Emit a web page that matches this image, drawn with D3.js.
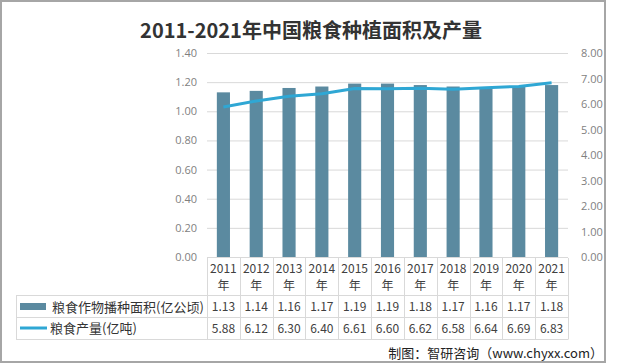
<!DOCTYPE html>
<html>
<head>
<meta charset="utf-8">
<script src="https://cdn.jsdelivr.net/npm/d3@7"></script>
<style>
body { margin: 0; background: #fff; }
svg { display: block; }
</style>
</head>
<body>
<svg width="626" height="364"></svg>
<script>
// categories and values
var years = ["2011", "2012", "2013", "2014", "2015", "2016", "2017", "2018", "2019", "2020", "2021"];
var area = [1.13, 1.14, 1.16, 1.17, 1.19, 1.19, 1.18, 1.17, 1.16, 1.17, 1.18];
var output = [5.88, 6.12, 6.30, 6.40, 6.61, 6.60, 6.62, 6.58, 6.64, 6.69, 6.83];
var leftTicks = [0, 0.2, 0.4, 0.6, 0.8, 1.0, 1.2, 1.4];
var rightTicks = [0, 1, 2, 3, 4, 5, 6, 7, 8];
var seriesNames = ["粮食作物播种面积(亿公顷)", "粮食产量(亿吨)"];

var svg = d3.select("svg");
var barColor = "#5b8aa0", lineColor = "#2fa7d4", gridColor = "#d9d9d9";
var cjk = "'Noto Sans CJK SC', sans-serif";

// frame
svg.append("rect").attr("x", 1).attr("y", 1).attr("width", 604).attr("height", 361)
  .attr("fill", "none").attr("stroke", "#a6a6a6").attr("stroke-width", 2);

// title
svg.append("text").attr("x", 311).attr("y", 38).attr("text-anchor", "middle")
  .style("font-family", cjk).style("font-size", "20px").style("font-weight", "bold")
  .style("fill", "#333").text("2011-2021年中国粮食种植面积及产量");

var x = d3.scaleBand().domain(years).range([207, 568]).padding(0);
var yL = d3.scaleLinear().domain([0, 1.4]).range([257, 53]);
var yR = d3.scaleLinear().domain([0, 8]).range([257, 53]);

// grid
svg.append("g").selectAll("line").data(leftTicks).enter().append("line")
  .attr("x1", 207).attr("x2", 568)
  .attr("y1", function(d) { return yL(d) + 0.5; })
  .attr("y2", function(d) { return yL(d) + 0.5; })
  .attr("stroke", gridColor).attr("stroke-width", 1);

// axes
var axL = svg.append("g").attr("transform", "translate(200,0)")
  .call(d3.axisLeft(yL).tickValues(leftTicks).tickFormat(d3.format(".2f")).tickSize(0));
var axR = svg.append("g").attr("transform", "translate(578,0)")
  .call(d3.axisRight(yR).tickValues(rightTicks).tickFormat(d3.format(".2f")).tickSize(0));
[axL, axR].forEach(function(a) {
  a.select(".domain").remove();
  a.selectAll("text").style("font-family", "'Open Sans', sans-serif").style("font-size", "11px").style("fill", "#7f7f7f");
});

// bars
var bw = x.bandwidth() * 0.4;
svg.append("g").selectAll("rect").data(area).enter().append("rect")
  .attr("x", function(d, i) { return x(years[i]) + (x.bandwidth() - bw) / 2; })
  .attr("y", function(d) { return yL(d); })
  .attr("width", bw)
  .attr("height", function(d) { return yL(0) - yL(d); })
  .attr("fill", barColor);

// line
var line = d3.line()
  .x(function(d, i) { return x(years[i]) + x.bandwidth() / 2; })
  .y(function(d) { return yR(d); });
svg.append("path").datum(output).attr("d", line)
  .attr("fill", "none").attr("stroke", lineColor).attr("stroke-width", 3).attr("stroke-linejoin", "round");

// data table
var tbl = svg.append("g");
var rowTop = [259, 295, 317, 339];
// horizontal lines
tbl.append("line").attr("x1", 16).attr("x2", 568).attr("y1", 295.5).attr("y2", 295.5).attr("stroke", gridColor);
tbl.append("line").attr("x1", 16).attr("x2", 568).attr("y1", 317.5).attr("y2", 317.5).attr("stroke", gridColor);
tbl.append("line").attr("x1", 16).attr("x2", 568).attr("y1", 339.5).attr("y2", 339.5).attr("stroke", gridColor);
// vertical lines
var vx = years.map(function(d) { return x(d); }).concat([568]);
tbl.selectAll(".v").data(vx).enter().append("line")
  .attr("x1", function(d) { return Math.round(d) + 0.5; })
  .attr("x2", function(d) { return Math.round(d) + 0.5; })
  .attr("y1", 258).attr("y2", 339.5).attr("stroke", gridColor);
tbl.append("line").attr("x1", 16.5).attr("x2", 16.5).attr("y1", 295.5).attr("y2", 339.5).attr("stroke", gridColor);

var cellFont = function(s) {
  s.style("font-family", cjk).style("font-size", "12px").style("fill", "#404040").attr("text-anchor", "middle");
};
tbl.selectAll(".yr").data(years).enter().append("text")
  .attr("x", function(d) { return x(d) + x.bandwidth() / 2; }).attr("y", 273)
  .text(function(d) { return d; }).call(cellFont);
tbl.selectAll(".nian").data(years).enter().append("text")
  .attr("x", function(d) { return x(d) + x.bandwidth() / 2; }).attr("y", 290)
  .text("年").call(cellFont);
tbl.selectAll(".a").data(area).enter().append("text")
  .attr("x", function(d, i) { return x(years[i]) + x.bandwidth() / 2; }).attr("y", 311)
  .text(function(d) { return d.toFixed(2); }).call(cellFont);
tbl.selectAll(".o").data(output).enter().append("text")
  .attr("x", function(d, i) { return x(years[i]) + x.bandwidth() / 2; }).attr("y", 333)
  .text(function(d) { return d.toFixed(2); }).call(cellFont);

// legend keys in table
tbl.append("rect").attr("x", 20).attr("y", 303).attr("width", 26).attr("height", 7).attr("fill", barColor);
tbl.append("line").attr("x1", 20).attr("x2", 47).attr("y1", 328).attr("y2", 328)
  .attr("stroke", lineColor).attr("stroke-width", 3);
tbl.selectAll(".sn").data(seriesNames).enter().append("text")
  .attr("x", function(d, i) { return i === 0 ? 52 : 50; })
  .attr("y", function(d, i) { return i === 0 ? 312 : 333; })
  .style("font-family", cjk).style("font-size", "13px").style("fill", "#333")
  .text(function(d) { return d; });

// source note
svg.append("text").attr("x", 603).attr("y", 358).attr("text-anchor", "end")
  .style("font-family", cjk).style("font-size", "13px").style("fill", "#222")
  .text("制图：智研咨询（www.chyxx.com）");
</script>
</body>
</html>
